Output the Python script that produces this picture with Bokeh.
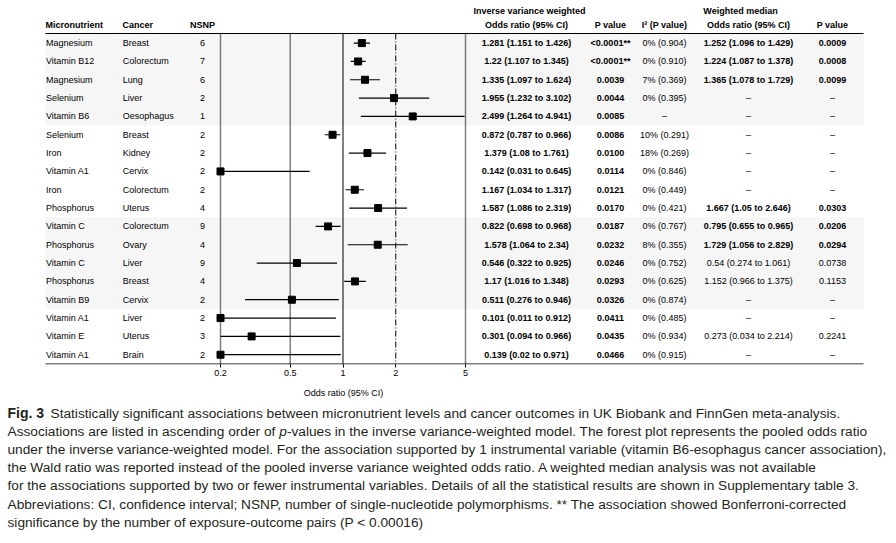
import numpy as np
from bokeh.plotting import figure
from bokeh.models import Range1d, LogScale, LogAxis, FixedTicker, ColumnDataSource
from bokeh.layouts import column
from bokeh.core.properties import value
from bokeh.embed import file_html
from bokeh.resources import INLINE

# ---------------- data ----------------
micronutrient = ["Magnesium", "Vitamin B12", "Magnesium", "Selenium", "Vitamin B6", "Selenium",
                 "Iron", "Vitamin A1", "Iron", "Phosphorus", "Vitamin C", "Phosphorus",
                 "Vitamin C", "Phosphorus", "Vitamin B9", "Vitamin A1", "Vitamin E", "Vitamin A1"]
cancer = ["Breast", "Colorectum", "Lung", "Liver", "Oesophagus", "Breast", "Kidney", "Cervix",
          "Colorectum", "Uterus", "Colorectum", "Ovary", "Liver", "Breast", "Cervix", "Liver",
          "Uterus", "Brain"]
nsnp = [6, 7, 6, 2, 1, 2, 2, 2, 2, 4, 9, 4, 9, 4, 2, 2, 3, 2]
ivw_or = [1.281, 1.22, 1.335, 1.955, 2.499, 0.872, 1.379, 0.142, 1.167, 1.587, 0.822, 1.578,
          0.546, 1.17, 0.511, 0.101, 0.301, 0.139]
ivw_lo = [1.151, 1.107, 1.097, 1.232, 1.264, 0.787, 1.08, 0.031, 1.034, 1.086, 0.698, 1.064,
          0.322, 1.016, 0.276, 0.011, 0.094, 0.02]
ivw_hi = [1.426, 1.345, 1.624, 3.102, 4.941, 0.966, 1.761, 0.645, 1.317, 2.319, 0.968, 2.34,
          0.925, 1.348, 0.946, 0.912, 0.966, 0.971]
ivw_p = ["<0.0001**", "<0.0001**", "0.0039", "0.0044", "0.0085", "0.0086", "0.0100", "0.0114",
         "0.0121", "0.0170", "0.0187", "0.0232", "0.0246", "0.0293", "0.0326", "0.0411",
         "0.0435", "0.0466"]
i2 = ["0% (0.904)", "0% (0.910)", "7% (0.369)", "0% (0.395)", "–", "10% (0.291)", "18% (0.269)",
      "0% (0.846)", "0% (0.449)", "0% (0.421)", "0% (0.767)", "8% (0.355)", "0% (0.752)",
      "0% (0.625)", "0% (0.874)", "0% (0.485)", "0% (0.934)", "0% (0.915)"]
wm_or = [1.252, 1.224, 1.365, None, None, None, None, None, None, 1.667, 0.795, 1.729,
         0.54, 1.152, None, None, 0.273, None]
wm_lo = [1.096, 1.087, 1.078, None, None, None, None, None, None, 1.05, 0.655, 1.056,
         0.274, 0.966, None, None, 0.034, None]
wm_hi = [1.429, 1.378, 1.729, None, None, None, None, None, None, 2.646, 0.965, 2.829,
         1.061, 1.375, None, None, 2.214, None]
wm_p = ["0.0009", "0.0008", "0.0099", None, None, None, None, None, None, "0.0303", "0.0206",
        "0.0294", "0.0738", "0.1153", None, None, "0.2241", None]
tick_vals = [0.2, 0.5, 1, 2, 5]
tick_labels = ["0.2", "0.5", "1", "2", "5"]
shaded_groups = [(0, 4), (10, 14)]

caption_title = "Fig. 3"
caption_lines = [
    "Statistically significant associations between micronutrient levels and cancer outcomes in UK Biobank and FinnGen meta-analysis.",
    ["Associations are listed in ascending order of ", "p",
     "-values in the inverse variance-weighted model. The forest plot represents the pooled odds ratio"],
    "under the inverse variance-weighted model. For the association supported by 1 instrumental variable (vitamin B6-esophagus cancer association),",
    "the Wald ratio was reported instead of the pooled inverse variance weighted odds ratio. A weighted median analysis was not available",
    "for the associations supported by two or fewer instrumental variables. Details of all the statistical results are shown in Supplementary table 3.",
    "Abbreviations: CI, confidence interval; NSNP, number of single-nucleotide polymorphisms. ** The association showed Bonferroni-corrected",
    "significance by the number of exposure-outcome pairs (P < 0.00016)",
]

# ---------------- layout constants (page pixels) ----------------
FONT = "Liberation Sans"
CAP_FONT = "Liberation Sans"
FS = "9px"
W = 896
H_MAIN = 382
H_CAP = 543 - H_MAIN
X_LEFT, X_RIGHT = 45, 863
HEADER_Y, BOTTOM_Y = 33, 364
X02, X5 = 220, 465  # pixel positions of OR 0.2 and 5

n = len(micronutrient)
row_y = 42.6 + np.arange(n) * 18.33

ppd = (X5 - X02) / (np.log10(5) - np.log10(0.2))
or_lo = 10 ** (np.log10(0.2) - X02 / ppd)
or_hi = 10 ** (np.log10(5) + (W - X5) / ppd)

p = figure(width=W, height=H_MAIN, x_range=Range1d(0, W), y_range=Range1d(BOTTOM_Y, 0),
           x_axis_type=None, y_axis_type=None, output_backend="svg", toolbar_location=None,
           min_border_left=0, min_border_right=0, min_border_top=0,
           min_border_bottom=H_MAIN - BOTTOM_Y)
p.outline_line_color = None
p.xgrid.visible = False
p.ygrid.visible = False
p.extra_x_ranges = {"or": Range1d(or_lo, or_hi)}
p.extra_x_scales = {"or": LogScale()}

ax = LogAxis(x_range_name="or", ticker=FixedTicker(ticks=tick_vals),
             major_label_overrides={t: l for t, l in zip(tick_vals, tick_labels)})
ax.axis_line_color = None
ax.major_tick_out = 3
ax.major_tick_in = 0
ax.minor_tick_out = 0
ax.minor_tick_in = 0
ax.major_tick_line_color = "black"
ax.major_label_standoff = 2
ax.major_label_text_font = FONT
ax.major_label_text_font_size = FS
ax.major_label_text_color = "black"
p.add_layout(ax, "below")

# shaded bands
for a, b in shaded_groups:
    top = HEADER_Y if a == 0 else (row_y[a - 1] + row_y[a]) / 2
    bot = (row_y[b] + row_y[b + 1]) / 2 if b + 1 < n else BOTTOM_Y
    p.quad(left=X_LEFT, right=X_RIGHT, top=top, bottom=bot, fill_color="#f6f6f6", line_color=None)

# vertical reference lines
styles = {0.2: ("1 1", 1.5), 0.5: ("1 1", 1.5), 1: ("solid", 1.0), 2: ("6 2 1 2", 1.0), 5: ("1 1", 1.5)}
for t in tick_vals:
    dash, w = styles[t]
    p.segment(x0=t, x1=t, y0=HEADER_Y, y1=BOTTOM_Y, line_color="black", line_width=w,
              line_dash=dash, x_range_name="or")

# header line and bottom rule
p.segment(x0=[X_LEFT, X_LEFT], x1=[X_RIGHT, X_RIGHT], y0=[HEADER_Y, BOTTOM_Y - 0.5],
          y1=[HEADER_Y, BOTTOM_Y - 0.5], line_color="black", line_width=1.2)

# CIs and points
lo_c = np.clip(ivw_lo, 0.2, 5)
hi_c = np.clip(ivw_hi, 0.2, 5)
or_c = np.clip(ivw_or, 0.2, 5)
p.segment(x0=lo_c, x1=hi_c, y0=row_y, y1=row_y, line_color="black", line_width=1.2,
          x_range_name="or")
p.scatter(x=or_c, y=row_y, marker="square", size=7, color="black", x_range_name="or")


def txt(fig, xs, ys, texts, align="left", bold=False, size=FS, font=FONT, color="black",
        italic=False):
    style = "bold" if bold else ("italic" if italic else "normal")
    src = ColumnDataSource(dict(x=list(xs), y=list(ys), t=list(texts)))
    fig.text(x="x", y="y", text="t", source=src, text_align=align, text_baseline="middle",
             text_font=value(font), text_font_size=size, text_font_style=style,
             text_color=color)


# headers
HY = 24
txt(p, [X_LEFT], [HY], ["Micronutrient"], bold=True)
txt(p, [122], [HY], ["Cancer"], bold=True)
txt(p, [202], [HY], ["NSNP"], align="center", bold=True)
txt(p, [529], [10.7], ["Inverse variance weighted"], align="center", bold=True)
txt(p, [526], [HY], ["Odds ratio (95% CI)"], align="center", bold=True)
txt(p, [610], [HY], ["P value"], align="center", bold=True)
txt(p, [664], [HY], ["I² (P value)"], align="center", bold=True)
txt(p, [740], [10.7], ["Weighted median"], align="center", bold=True)
txt(p, [748], [HY], ["Odds ratio (95% CI)"], align="center", bold=True)
txt(p, [832], [HY], ["P value"], align="center", bold=True)

# rows
txt(p, [X_LEFT + 0.5] * n, row_y, micronutrient)
txt(p, [122.3] * n, row_y, cancer)
txt(p, [202] * n, row_y, [str(v) for v in nsnp], align="center")


def fmt(o, l, h):
    return f"{o:g} ({l:g} to {h:g})"


txt(p, [526] * n, row_y, [fmt(o, l, h) for o, l, h in zip(ivw_or, ivw_lo, ivw_hi)],
    align="center", bold=True)
txt(p, [610] * n, row_y, ivw_p, align="center", bold=True)
txt(p, [664] * n, row_y, i2, align="center")

wm_sig = [(q is not None and float(q) < 0.05) for q in wm_p]
wm_txt = [fmt(o, l, h) if o is not None else "–" for o, l, h in zip(wm_or, wm_lo, wm_hi)]
wm_ptxt = [q if q is not None else "–" for q in wm_p]
for flag in (True, False):
    idx = [i for i in range(n) if wm_sig[i] == flag]
    txt(p, [748] * len(idx), row_y[idx], [wm_txt[i] for i in idx], align="center", bold=flag)
    txt(p, [832] * len(idx), row_y[idx], [wm_ptxt[i] for i in idx], align="center", bold=flag)

# ---------------- caption figure ----------------
cap = figure(width=W, height=H_CAP, x_range=Range1d(0, W), y_range=Range1d(543, H_MAIN),
             x_axis_type=None, y_axis_type=None, output_backend="svg", toolbar_location=None,
             min_border=0, min_border_left=0, min_border_right=0, min_border_top=0,
             min_border_bottom=0)
cap.outline_line_color = None
cap.xgrid.visible = False
cap.ygrid.visible = False

txt(cap, [343], [392.5], ["Odds ratio (95% CI)"], align="center")

CFS = "13.7px"
CCOL = "#231f20"
cy = 412.8 + np.arange(len(caption_lines)) * 18.15
txt(cap, [7], [cy[0]], [caption_title], bold=True, size="14px", font=CAP_FONT, color=CCOL)
txt(cap, [50], [cy[0]], [caption_lines[0]], size=CFS, font=CAP_FONT, color=CCOL)
seg = caption_lines[1]
txt(cap, [7], [cy[1]], [seg[0]], size=CFS, font=CAP_FONT, color=CCOL)
txt(cap, [278.8], [cy[1]], [seg[1]], size=CFS, font=CAP_FONT, color=CCOL, italic=True)
txt(cap, [286.4], [cy[1]], [seg[2]], size=CFS, font=CAP_FONT, color=CCOL)
rest = caption_lines[2:]
txt(cap, [7] * len(rest), cy[2:], rest, size=CFS, font=CAP_FONT, color=CCOL)

layout = column(p, cap, spacing=0)
open("out.html", "w").write(file_html(layout, INLINE))
